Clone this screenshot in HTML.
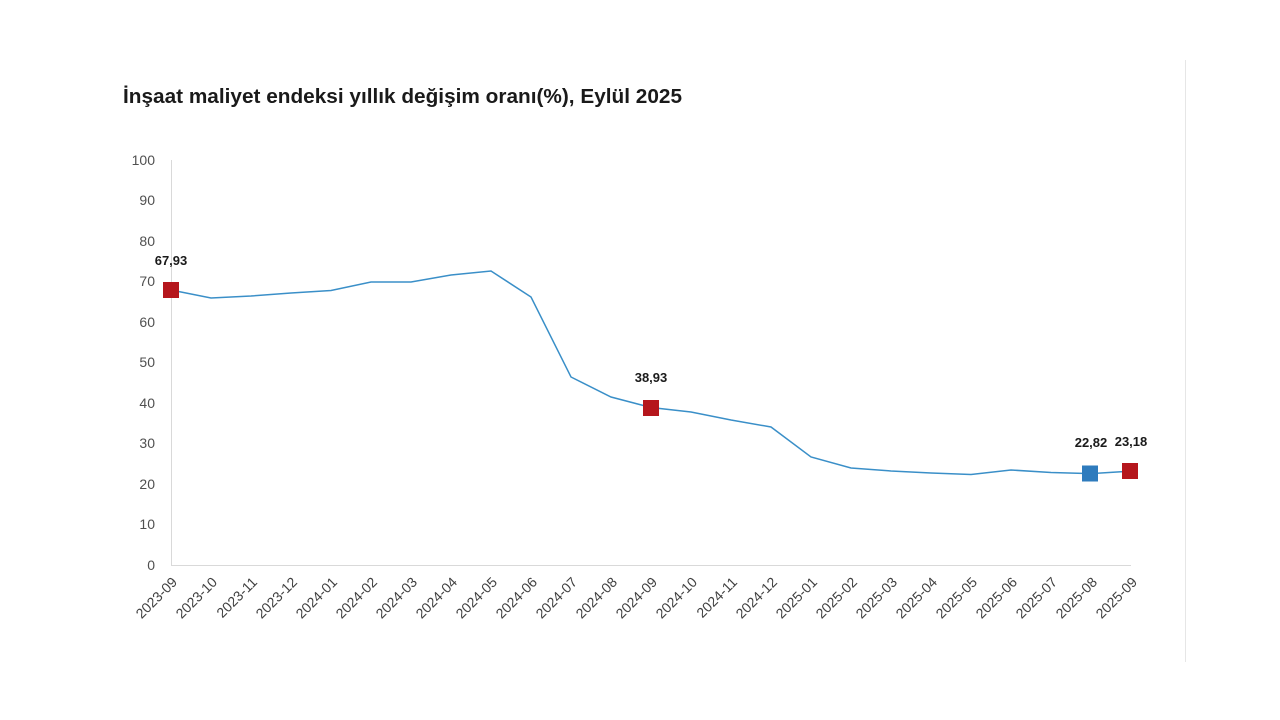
<!DOCTYPE html>
<html><head><meta charset="utf-8"><style>
html,body{margin:0;padding:0;background:#fff;}
svg{display:block;font-family:"Liberation Sans",sans-serif;}
</style></head><body>
<svg width="1280" height="720" viewBox="0 0 1280 720" xmlns="http://www.w3.org/2000/svg">
<rect width="1280" height="720" fill="#fff"/>
<line x1="1185.5" y1="60" x2="1185.5" y2="662" stroke="#e6e6e6" stroke-width="1"/>
<text x="123" y="103" font-size="20" font-weight="bold" fill="#1a1a1a" textLength="559" lengthAdjust="spacingAndGlyphs">İnşaat maliyet endeksi yıllık değişim oranı(%), Eylül 2025</text>
<g font-size="14" fill="#505050" text-anchor="end">
<text x="155" y="570">0</text><text x="155" y="529">10</text><text x="155" y="489">20</text><text x="155" y="448">30</text><text x="155" y="408">40</text><text x="155" y="367">50</text><text x="155" y="327">60</text><text x="155" y="286">70</text><text x="155" y="246">80</text><text x="155" y="205">90</text><text x="155" y="165">100</text>
</g>
<line x1="171.5" y1="160" x2="171.5" y2="565" stroke="#d9d9d9"/>
<line x1="171" y1="565.5" x2="1131" y2="565.5" stroke="#d9d9d9"/>
<polyline fill="none" stroke="#3a8fc8" stroke-width="1.5" points="171,290 211,298 251,296 291,293 331,290.5 371,282 411,282 451,275 491,271 531,297 571,377 611,397 651,407.5 691,412 731,420 771,427 811,457 851,468 891,471 931,473 971,474.5 1011,470 1051,472.5 1091,473.6 1131,471.1"/>
<rect x="163" y="282" width="16" height="16" fill="#b5161c"/>
<rect x="643" y="400" width="16" height="16" fill="#b5161c"/>
<rect x="1082" y="465.5" width="16" height="16" fill="#2e7bbd"/>
<rect x="1122" y="463" width="16" height="16" fill="#b5161c"/>
<g font-size="13" font-weight="bold" fill="#1a1a1a" text-anchor="middle">
<text x="171" y="265">67,93</text><text x="651" y="382">38,93</text><text x="1091" y="447">22,82</text><text x="1131" y="446">23,18</text>
</g>
<g font-size="14" fill="#404040" text-anchor="end">
<text transform="translate(178,583) rotate(-45)">2023-09</text>
<text transform="translate(218,583) rotate(-45)">2023-10</text>
<text transform="translate(258,583) rotate(-45)">2023-11</text>
<text transform="translate(298,583) rotate(-45)">2023-12</text>
<text transform="translate(338,583) rotate(-45)">2024-01</text>
<text transform="translate(378,583) rotate(-45)">2024-02</text>
<text transform="translate(418,583) rotate(-45)">2024-03</text>
<text transform="translate(458,583) rotate(-45)">2024-04</text>
<text transform="translate(498,583) rotate(-45)">2024-05</text>
<text transform="translate(538,583) rotate(-45)">2024-06</text>
<text transform="translate(578,583) rotate(-45)">2024-07</text>
<text transform="translate(618,583) rotate(-45)">2024-08</text>
<text transform="translate(658,583) rotate(-45)">2024-09</text>
<text transform="translate(698,583) rotate(-45)">2024-10</text>
<text transform="translate(738,583) rotate(-45)">2024-11</text>
<text transform="translate(778,583) rotate(-45)">2024-12</text>
<text transform="translate(818,583) rotate(-45)">2025-01</text>
<text transform="translate(858,583) rotate(-45)">2025-02</text>
<text transform="translate(898,583) rotate(-45)">2025-03</text>
<text transform="translate(938,583) rotate(-45)">2025-04</text>
<text transform="translate(978,583) rotate(-45)">2025-05</text>
<text transform="translate(1018,583) rotate(-45)">2025-06</text>
<text transform="translate(1058,583) rotate(-45)">2025-07</text>
<text transform="translate(1098,583) rotate(-45)">2025-08</text>
<text transform="translate(1138,583) rotate(-45)">2025-09</text>
</g>
</svg>
</body></html>
